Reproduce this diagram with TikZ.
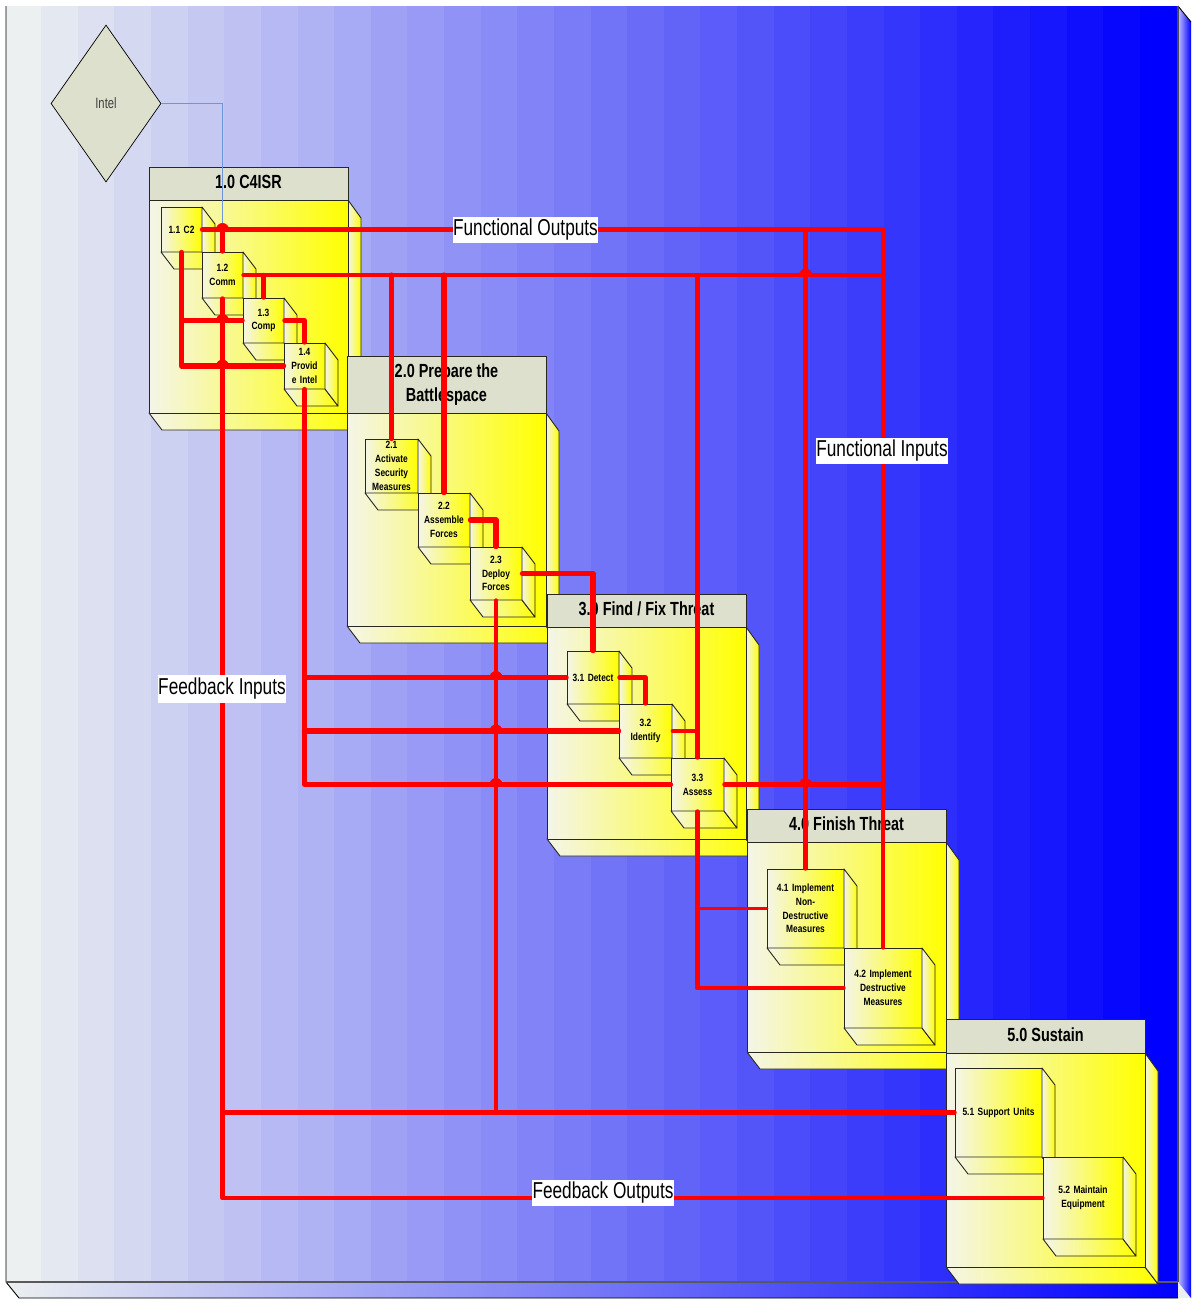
\documentclass[tikz,border=0pt]{standalone}
\usepackage{fontspec}
\usetikzlibrary{shapes.geometric,calc}
\newfontfamily\hdf[FakeStretch=0.76]{Liberation Sans}
\newfontfamily\lbf[FakeStretch=0.75]{Liberation Sans}
\newfontfamily\bxf[FakeStretch=0.80]{Liberation Sans}
\definecolor{palefill}{RGB}{244,245,232}
\definecolor{panelpale}{RGB}{236,240,240}
\definecolor{hdr}{RGB}{221,224,204}
\definecolor{wire}{RGB}{255,0,0}
\definecolor{feed}{RGB}{108,150,215}
\definecolor{edgec}{RGB}{40,40,30}
\colorlet{midfill}{palefill!52!yellow}
\tikzset{
  front/.style={draw=edgec,line width=0.9pt,left color=palefill,right color=yellow,middle color=midfill,inner sep=0pt,align=center,text=black},
  face/.style={draw=edgec,line width=0.9pt,line join=round,left color=palefill,right color=yellow,middle color=midfill},
  laneh/.style={draw=edgec,line width=0.9pt,fill=hdr,inner sep=0pt,align=center},
  boxtext/.style={font=\bxf\bfseries\fontsize{10.5}{13.8}\selectfont},
  hdrtext/.style={font=\hdf\bfseries\fontsize{19}{23.5}\selectfont},
  tag/.style={fill=white,inner sep=0pt,font=\lbf\fontsize{23}{26}\selectfont},
  w4/.style={draw=wire,line width=4.3pt,line cap=round,line join=round},
  w5/.style={draw=wire,line width=5.2pt,line cap=round,line join=round},
  w3/.style={draw=wire,line width=3.6pt,line cap=round,line join=round}
}
% name, x0,y0,x1,y1, text
\newcommand{\cubebox}[6]{%
  \node[front,boxtext,minimum width={(#4-#2)*1pt},minimum height={(#5-#3)*1pt},text width={(#4-#2)*1pt}] (#1) at ({(#2+#4)/2},{(#3+#5)/2}) {#6};
  \path[face] (#2,#5) -- (#4,#5) -- ({#4+13},{#5+17}) -- ({#2+13},{#5+17}) -- cycle;
  \path[face] (#4,#3) -- ({#4+13},{#3+17}) -- ({#4+13},{#5+17}) -- (#4,#5) -- cycle;
}
% name, x0,y0(header top),y1(header bottom),x1,y2(body bottom),text
\newcommand{\lanebox}[7]{%
  \path[face] (#2,#6) -- ({#2+13},{#6+17}) -- ({#5+13},{#6+17}) -- (#5,#6) -- cycle;
  \path[face] (#5,#4) -- ({#5+13},{#4+18}) -- ({#5+13},{#6+17}) -- (#5,#6) -- cycle;
  \path[face] (#2,#4) rectangle (#5,#6);
  \node[laneh,hdrtext,minimum width={(#5-#2)*1pt},minimum height={(#4-#3)*1pt}] (#1) at ({(#2+#5)/2},{(#3+#4)/2}) {#7};
}
\newcommand{\bump}[1]{\fill[wire] ($(#1)+(-6.5,0)$) arc (180:360:6.5);}
\begin{document}
\begin{tikzpicture}[x=1pt,y=-1pt]
\useasboundingbox (0,0) rectangle (1193,1304);
\fill[white] (0,0) rectangle (1193,1304);
% back panel bands
\begin{scope}
\clip (6,6) rectangle (1178,1282);
\foreach \i in {0,...,31}{
  \pgfmathsetmacro{\ratio}{\i/31}
  \pgfmathtruncatemacro{\rr}{max(0,236*(1-\ratio))}
  \pgfmathtruncatemacro{\gg}{max(0,240*(1-\ratio))}
  \pgfmathtruncatemacro{\bb}{min(255,240+15*\ratio)}
  \definecolor{bandc}{RGB}{\rr,\gg,\bb}
  \fill[bandc] ({4.5+\i*36.625},6) rectangle ({4.5+(\i+1)*36.625+2},1282);
}
\end{scope}
\path[left color=panelpale,right color=blue] (6,1282) -- (19,1298) -- (1178,1298) -- (1178,1282) -- cycle;
\fill[panelpale] (1178,1282) -- (1190,1298) -- (1178,1298) -- cycle;
\path[left color=blue!25!white,right color=blue] (1178,6) -- (1191,22) -- (1191,1298) -- (1178,1282) -- cycle;
\draw[black,line width=0.9pt] (6,6) -- (6,1282) -- (19,1298) -- (1178,1298);
\draw[black,line width=0.9pt] (1178,6) -- (1191,22);
\draw[black!70,line width=1.2pt] (1178,6) -- (1178,1282);
\draw[black!65,line width=1.5pt] (6,1282) -- (1178,1282);
% lanes and boxes
\lanebox{l1}{149}{167}{200}{348}{413}{\raisebox{3pt}{1.0 C4ISR}}
\cubebox{b11}{161}{207}{202}{252}{1.1 C2}
\cubebox{b12}{202}{252}{243}{298}{1.2\\Comm}
\cubebox{b13}{243}{298}{284}{343}{1.3\\Comp}
\cubebox{b14}{284}{343}{325}{389}{1.4\\Provid\\e Intel}
\lanebox{l2}{347}{356}{413}{546}{626}{2.0 Prepare the\\Battlespace}
\cubebox{b21}{365}{439}{418}{493}{2.1\\Activate\\Security\\Measures}
\cubebox{b22}{418}{493}{470}{547}{2.2\\Assemble\\Forces}
\cubebox{b23}{470}{547}{522}{600}{2.3\\Deploy\\Forces}
\lanebox{l3}{547}{594}{627}{746}{839}{\raisebox{3pt}{3.0 Find / Fix Threat}}
\cubebox{b31}{567}{651}{619}{704}{3.1 Detect}
\cubebox{b32}{619}{704}{672}{758}{3.2\\Identify}
\cubebox{b33}{671}{758}{724}{811}{3.3\\Assess}
\lanebox{l4}{747}{809}{842}{946}{1052}{\raisebox{3pt}{4.0 Finish Threat}}
\cubebox{b41}{767}{869}{844}{948}{4.1 Implement\\Non-\\Destructive\\Measures}
\cubebox{b42}{844}{948}{922}{1028}{4.2 Implement\\Destructive\\Measures}
\lanebox{l5}{946}{1019}{1053}{1145}{1267}{\raisebox{3pt}{5.0 Sustain}}
\cubebox{b51}{955}{1068}{1042}{1157}{5.1 Support Units}
\cubebox{b52}{1043}{1157}{1123}{1239}{5.2 Maintain\\Equipment}
% intel
\node[diamond,draw=black,line width=0.7pt,fill=hdr,inner sep=0pt,minimum width=110pt,minimum height=157pt,font=\lbf\fontsize{15}{17}\selectfont,text=black!75] (intel) at (106,103.5) {Intel};
\draw[feed,line width=1pt] (intel.east) -| (b12.north);
% junction points
\coordinate (fo) at (b42.north |- b11.east);
\coordinate (fi) at (b42.north |- b12.east);
\coordinate (jfb1) at (b12.north |- b11.east);
\coordinate (jfb2) at (b12.north |- b13.west);
\coordinate (jfb3) at (b12.north |- b14.west);
\coordinate (jd1) at (b23.south |- b31.west);
\coordinate (jd2) at (b23.south |- b32.west);
\coordinate (jd3) at (b23.south |- b33.west);
\coordinate (jo1) at (b41.north |- b12.east);
\coordinate (jo2) at (b41.north |- b33.east);
% functional outputs
\path[w5] (b11.east) -- (jfb1);
\path[w4] (jfb1) -- (b12.north);
\path[w4] (jfb1) -- (fo) -- (b42.north);
\path[w4] (b41.north |- b11.east) -- (b41.north);
\path[w4] (b12.east) -- (fi);
\path[w4] (b12.east -| b13.north) -- (b13.north);
\path[w5] (b12.east -| b21.north) -- (b21.north);
\path[w5] (b12.east -| b22.north) -- (b22.north);
\path[w4] (b12.east -| b33.north) -- (b33.north);
\path[w4] (b33.east) -- (b33.east -| b42.north);
% internal
\path[w5] (b11.south) |- (b14.west);
\path[w4] (b11.south |- b13.west) -- (b13.west);
\path[w4] (b13.east) -| (b14.north);
\path[w5] (b14.south) |- (b33.west);
\path[w4] (b14.south |- b31.west) -- (b31.west);
\path[w5] (b14.south |- b32.west) -- (b32.west);
\path[w5] (b22.east) -| (b23.north);
\path[w5] (b23.east) -| (b31.north);
\path[w4] (b31.east) -| (b32.north);
\path[w3] (b32.east) -- (b32.east -| b33.north);
\path[w4] (b33.south) |- (b42.west);
\path[w3] (b33.south |- b41.west) -- (b41.west);
% feedback
\path[w4] (b12.south) |- (b52.west);
\path[w4] (b23.south) -- (b23.south |- b51.west);
\path[w4] (b12.south |- b51.west) -- (b51.west);
% bumps
\bump{jfb1}\bump{jfb2}\bump{jfb3}\bump{jd1}\bump{jd2}\bump{jd3}\bump{jo1}\bump{jo2}
% labels
\node[tag,minimum width=145pt,minimum height=26pt] (t1) at (525.5,230) {\raisebox{-5pt}{Functional Outputs}};
\node[tag,minimum width=132pt,minimum height=26pt] (t2) at (882,451) {\raisebox{-5pt}{Functional Inputs}};
\node[tag,minimum width=128pt,minimum height=28pt] (t3) at (222,689) {\raisebox{-5pt}{Feedback Inputs}};
\node[tag,minimum width=142pt,minimum height=26pt] (t4) at (603,1193) {\raisebox{-5pt}{Feedback Outputs}};
\end{tikzpicture}
\end{document}
